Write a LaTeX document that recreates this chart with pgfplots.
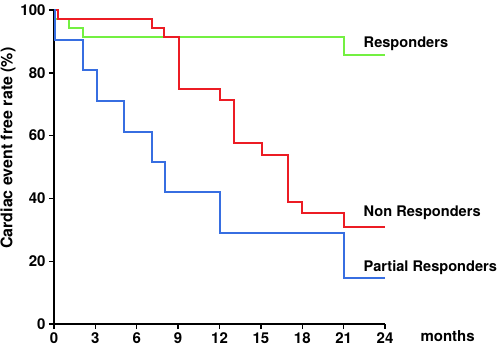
\documentclass[border=0pt]{standalone}
\usepackage{pgfplots}
\pgfplotsset{compat=1.18}
\usepackage{fontspec}
\setmainfont{TeX Gyre Heros}
\definecolor{cred}{RGB}{236,28,36}
\definecolor{cgreen}{RGB}{115,240,65}
\definecolor{cblue}{RGB}{55,110,225}
\begin{document}
\begin{tikzpicture}
\begin{axis}[
  scale only axis, width=331pt, height=314pt,
  xmin=0, xmax=24, ymin=0, ymax=100,
  axis x line*=bottom, axis y line*=left,
  axis line style={line width=1.6pt, black},
  xtick={0,3,...,24}, ytick={0,20,...,100},
  tick style={line width=1.4pt, black},
  tick align=outside, major tick length=5pt,
  tick label style={font=\fontsize{15}{17}\selectfont\bfseries},
  /pgf/number format/assume math mode=true,
  ylabel={Cardiac event free rate (\%)},
  ylabel style={font=\fontsize{16}{18}\selectfont\bfseries, at={(ticklabel cs:0.56)}, yshift=-2pt},
  clip=false,
]
\addplot[const plot, cgreen, line width=2pt] coordinates {
(0,100) (0.1,97.1) (1.1,94.3) (2.1,91.4) (21,85.7) (24,85.7)};
\addplot[const plot, cred, line width=2pt] coordinates {
(0,100) (0.3,97.1) (7.1,94.3) (8,91.4) (9.05,74.9) (12,71.2) (13.05,57.5) (15.05,53.9) (17,38.9) (18,35.2) (21,30.8) (24,30.8)};
\addplot[const plot, cblue, line width=2pt] coordinates {
(0,100) (0.05,90.5) (2.08,80.8) (3.1,71.1) (5.1,61.3) (7.08,51.6) (8.04,42.0) (12,28.9) (21,14.8) (24,14.8)};
\node[anchor=west, font=\fontsize{14.6}{17}\selectfont\bfseries] at (axis cs:22.2,89.2) {Responders};
\node[anchor=west, font=\fontsize{14.6}{17}\selectfont\bfseries] at (axis cs:22.2,35.3) {Non Responders};
\node[anchor=west, font=\fontsize{14.6}{17}\selectfont\bfseries] at (axis cs:22.2,17.8) {Partial Responders};
\node[anchor=base west, font=\fontsize{15}{17}\selectfont\bfseries, xshift=32pt, yshift=-17pt] at (axis cs:24,0) {months};
\end{axis}
\pgfresetboundingbox
\path (-54pt,-22pt) rectangle (446pt,324pt);
\end{tikzpicture}
\end{document}
